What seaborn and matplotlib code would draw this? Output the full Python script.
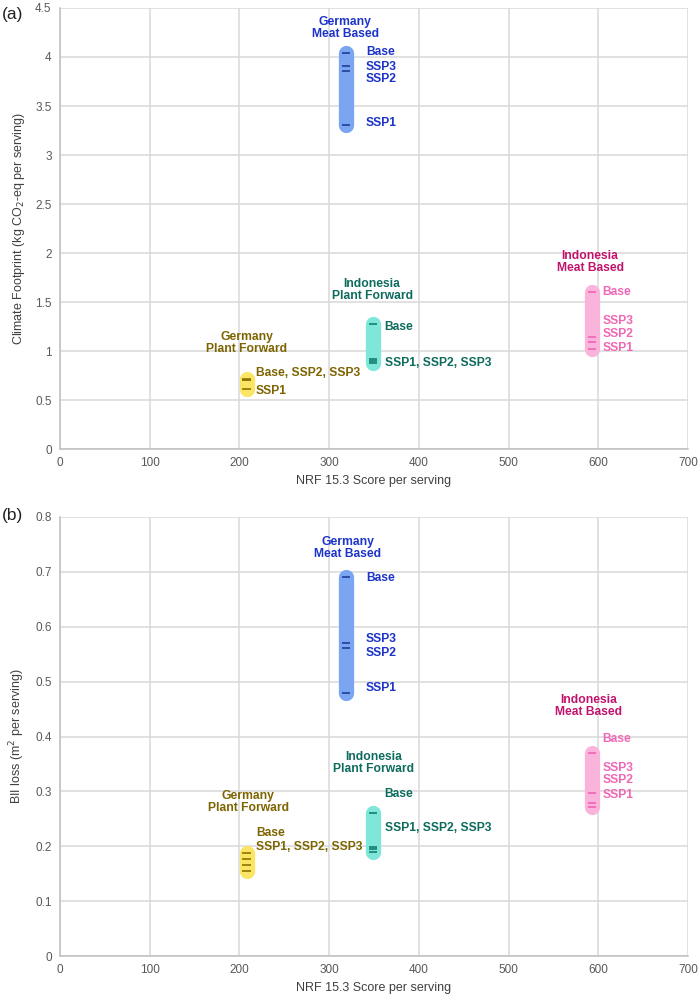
import pandas as pd
import matplotlib.pyplot as plt
import seaborn as sns
from matplotlib.ticker import MultipleLocator, FuncFormatter

# Diets and their NRF 15.3 score per serving
groups = ['Germany Meat Based', 'Germany Plant Forward',
          'Indonesia Plant Forward', 'Indonesia Meat Based']
nrf_score = [319, 208, 349, 593]
scenarios = ['Base', 'SSP1', 'SSP2', 'SSP3']

# Climate footprint (kg CO2-eq per serving), order: Base, SSP1, SSP2, SSP3
cf_germany_meat = [4.04, 3.31, 3.86, 3.91]
cf_germany_plant = [0.72, 0.61, 0.70, 0.71]
cf_indonesia_plant = [1.28, 0.88, 0.90, 0.92]
cf_indonesia_meat = [1.60, 1.02, 1.09, 1.14]

# BII loss (m2 per serving), order: Base, SSP1, SSP2, SSP3
bii_germany_meat = [0.690, 0.480, 0.562, 0.570]
bii_germany_plant = [0.188, 0.155, 0.166, 0.176]
bii_indonesia_plant = [0.260, 0.189, 0.195, 0.199]
bii_indonesia_meat = [0.370, 0.272, 0.279, 0.297]

bar_colors = ['#7aa5f0', '#fbe564', '#7fe6da', '#fab4dc']
mark_colors = ['#23399a', '#8c7400', '#127f72', '#f065b4']
head_colors = ['#1c33c8', '#7d6400', '#0d6b5d', '#c2136c']
ssp_colors = ['#1c33c8', '#7d6400', '#0d6b5d', '#f067b5']


def make_frame(values):
    rows = []
    for g, x, vals in zip(groups, nrf_score, values):
        for s, v in zip(scenarios, vals):
            rows.append({'group': g, 'nrf': x, 'scenario': s, 'value': v})
    return pd.DataFrame(rows)


df_cf = make_frame([cf_germany_meat, cf_germany_plant,
                    cf_indonesia_plant, cf_indonesia_meat])
df_bii = make_frame([bii_germany_meat, bii_germany_plant,
                     bii_indonesia_plant, bii_indonesia_meat])

sns.set_style('white')
plt.rcParams['font.family'] = ['Liberation Sans', 'DejaVu Sans']

fig = plt.figure(figsize=(7, 9.98), dpi=100)
ax_a = fig.add_axes([0.0857, 0.550, 0.8971, 0.442])
ax_b = fig.add_axes([0.0857, 0.042, 0.8971, 0.440])


def draw_panel(ax, df, ymax, ystep, ylabel):
    # rounded range bar for every diet
    sns.lineplot(data=df, x='nrf', y='value', hue='group', units='group',
                 estimator=None, palette=dict(zip(groups, bar_colors)),
                 lw=11, solid_capstyle='round', legend=False, ax=ax,
                 zorder=3)
    # small dash for every scenario
    sns.scatterplot(data=df, x='nrf', y='value', hue='group',
                    palette=dict(zip(groups, mark_colors)), marker='_',
                    s=36, linewidth=1.2, legend=False, ax=ax, zorder=4)
    ax.set_xlim(0, 700)
    ax.set_ylim(0, ymax)
    ax.xaxis.set_major_locator(MultipleLocator(100))
    ax.yaxis.set_major_locator(MultipleLocator(ystep))
    ax.yaxis.set_major_formatter(FuncFormatter(lambda v, p: f'{v:g}'))
    ax.grid(True, color='#d9d9d9', lw=1.1, zorder=0)
    ax.set_axisbelow(True)
    for side in ['top', 'right']:
        ax.spines[side].set_visible(False)
    for side in ['left', 'bottom']:
        ax.spines[side].set_color('#bfbfbf')
        ax.spines[side].set_linewidth(1.1)
    ax.tick_params(length=0, labelsize=8.5, labelcolor='#595959', pad=6)
    ax.set_xlabel('NRF 15.3 Score per serving', fontsize=9, color='#404040',
                  labelpad=4)
    ax.set_ylabel(ylabel, fontsize=9, color='#404040', labelpad=6)


def put_labels(ax, heads, ssps):
    for i, (txt, x, y) in enumerate(heads):
        ax.text(x, y, txt, color=head_colors[i], fontsize=8.7,
                fontweight='bold', ha='center', va='center',
                linespacing=1.0, zorder=5)
    for i, items in enumerate(ssps):
        for txt, x, y in items:
            ax.text(x, y, txt, color=ssp_colors[i], fontsize=8.7,
                    fontweight='bold', ha='left', va='center', zorder=5)


draw_panel(ax_a, df_cf, 4.5, 0.5,
           'Climate Footprint (kg CO$_2$-eq per serving)')
draw_panel(ax_b, df_bii, 0.8, 0.1, 'BII loss (m$^2$ per serving)')

# panel (a) annotations
put_labels(ax_a,
           [('Germany\nMeat Based', 318, 4.30),
            ('Germany\nPlant Forward', 208, 1.08),
            ('Indonesia\nPlant Forward', 348, 1.62),
            ('Indonesia\nMeat Based', 591, 1.91)],
           [[('Base', 341, 4.05), ('SSP3', 341, 3.90), ('SSP2', 341, 3.78),
             ('SSP1', 341, 3.33)],
            [('Base, SSP2, SSP3', 218, 0.78), ('SSP1', 218, 0.59)],
            [('Base', 362, 1.25), ('SSP1, SSP2, SSP3', 362, 0.88)],
            [('Base', 605, 1.60), ('SSP3', 605, 1.31), ('SSP2', 605, 1.17),
             ('SSP1', 605, 1.03)]])

# panel (b) annotations
put_labels(ax_b,
           [('Germany\nMeat Based', 321, 0.743),
            ('Germany\nPlant Forward', 210, 0.280),
            ('Indonesia\nPlant Forward', 350, 0.352),
            ('Indonesia\nMeat Based', 589, 0.456)],
           [[('Base', 341, 0.689), ('SSP3', 341, 0.577), ('SSP2', 341, 0.552),
             ('SSP1', 341, 0.489)],
            [('Base', 219, 0.2246), ('SSP1, SSP2, SSP3', 219, 0.199)],
            [('Base', 362, 0.295), ('SSP1, SSP2, SSP3', 362, 0.233)],
            [('Base', 605, 0.395), ('SSP3', 605, 0.342), ('SSP2', 605, 0.320),
             ('SSP1', 605, 0.293)]])

# panel letters
fig.text(0.003, 0.985, '(a)', fontsize=12.5, color='#222222', va='center')
fig.text(0.003, 0.483, '(b)', fontsize=12.5, color='#222222', va='center')

plt.savefig('out.png', dpi=100)
